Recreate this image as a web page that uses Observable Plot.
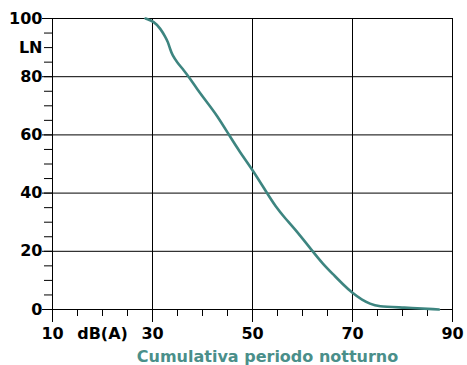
<!DOCTYPE html>
<html><head><meta charset="utf-8">
<script src="https://cdn.jsdelivr.net/npm/d3@7"></script>
<script src="https://cdn.jsdelivr.net/npm/@observablehq/plot@0.6"></script>
<style>body{margin:0;background:#fff}svg{display:block}</style>
</head><body><div id="chart"></div>
<script>
const dB = [28.6,30.3,31.6,32.6,33.1,33.5,34,34.9,36.3,37.3,38.9,40.9,42.9,45.3,47.5,50.1,52.9,54.6,56.6,58.3,61.9,64,66.3,68,70,72,73.5,75,80,87.3];
const LN = [100,99,96.5,93.6,91.9,89.6,87.3,85,82.1,79.8,75.8,71.2,66.7,60,54,47.8,40,35.4,31.2,28,20.3,15.8,11.8,8.8,5.6,3.2,2,1,0.7,0];
const xLabelValues = [10,20,30,50,70,90];
const xLabelTexts = ["10","dB(A)","30","50","70","90"];
const yLabelValues = [0,20,40,60,80,90,100];
const yLabelTexts = ["0","20","40","60","80","LN","100"];
const title = "Cumulativa periodo notturno";

const data = dB.map((d,i)=>({dB:d, LN:LN[i]}));
const xMinor = d3.range(10,91,5);
const yMinor = d3.range(0,101,5);
const font = "DejaVu Sans, Verdana, sans-serif";

const chart = Plot.plot({
  width:467, height:365,
  marginLeft:52, marginRight:15, marginTop:18, marginBottom:56,
  style:{fontFamily:font, background:"#fff"},
  x:{domain:[10,90]},
  y:{domain:[0,100]},
  marks:[
    Plot.gridX([30,50,70],{stroke:"#000", strokeOpacity:1}),
    Plot.gridY([20,40,60,80],{stroke:"#000", strokeOpacity:1}),
    Plot.axisX(xMinor,{tickSize:7, text:null, stroke:"#000", label:null}),
    Plot.axisX([10,30,50,70,90],{tickSize:13, text:null, stroke:"#000", label:null}),
    Plot.axisX(xLabelValues,{tickSize:0, tickPadding:18, label:null, fontSize:16, fontWeight:"bold", fill:"#000",
      tickFormat:(d)=>xLabelTexts[xLabelValues.indexOf(d)]}),
    Plot.axisY(yMinor,{tickSize:8, text:null, stroke:"#000", label:null}),
    Plot.axisY([0,20,40,60,80,100],{tickSize:10, text:null, stroke:"#000", label:null}),
    Plot.axisY(yLabelValues,{tickSize:0, tickPadding:10, label:null, fontSize:16, fontWeight:"bold", fill:"#000",
      tickFormat:(d)=>yLabelTexts[yLabelValues.indexOf(d)]}),
    Plot.frame({stroke:"#000"}),
    Plot.line(data,{x:"dB", y:"LN", stroke:"#3d8580", strokeWidth:2.6, curve:"basis"}),
    Plot.text([title],{frameAnchor:"bottom", dx:15, dy:47, lineAnchor:"middle", fontSize:16, fontWeight:"bold", fill:"#4a8f8a"})
  ]
});
document.getElementById("chart").append(chart);
</script></body></html>
